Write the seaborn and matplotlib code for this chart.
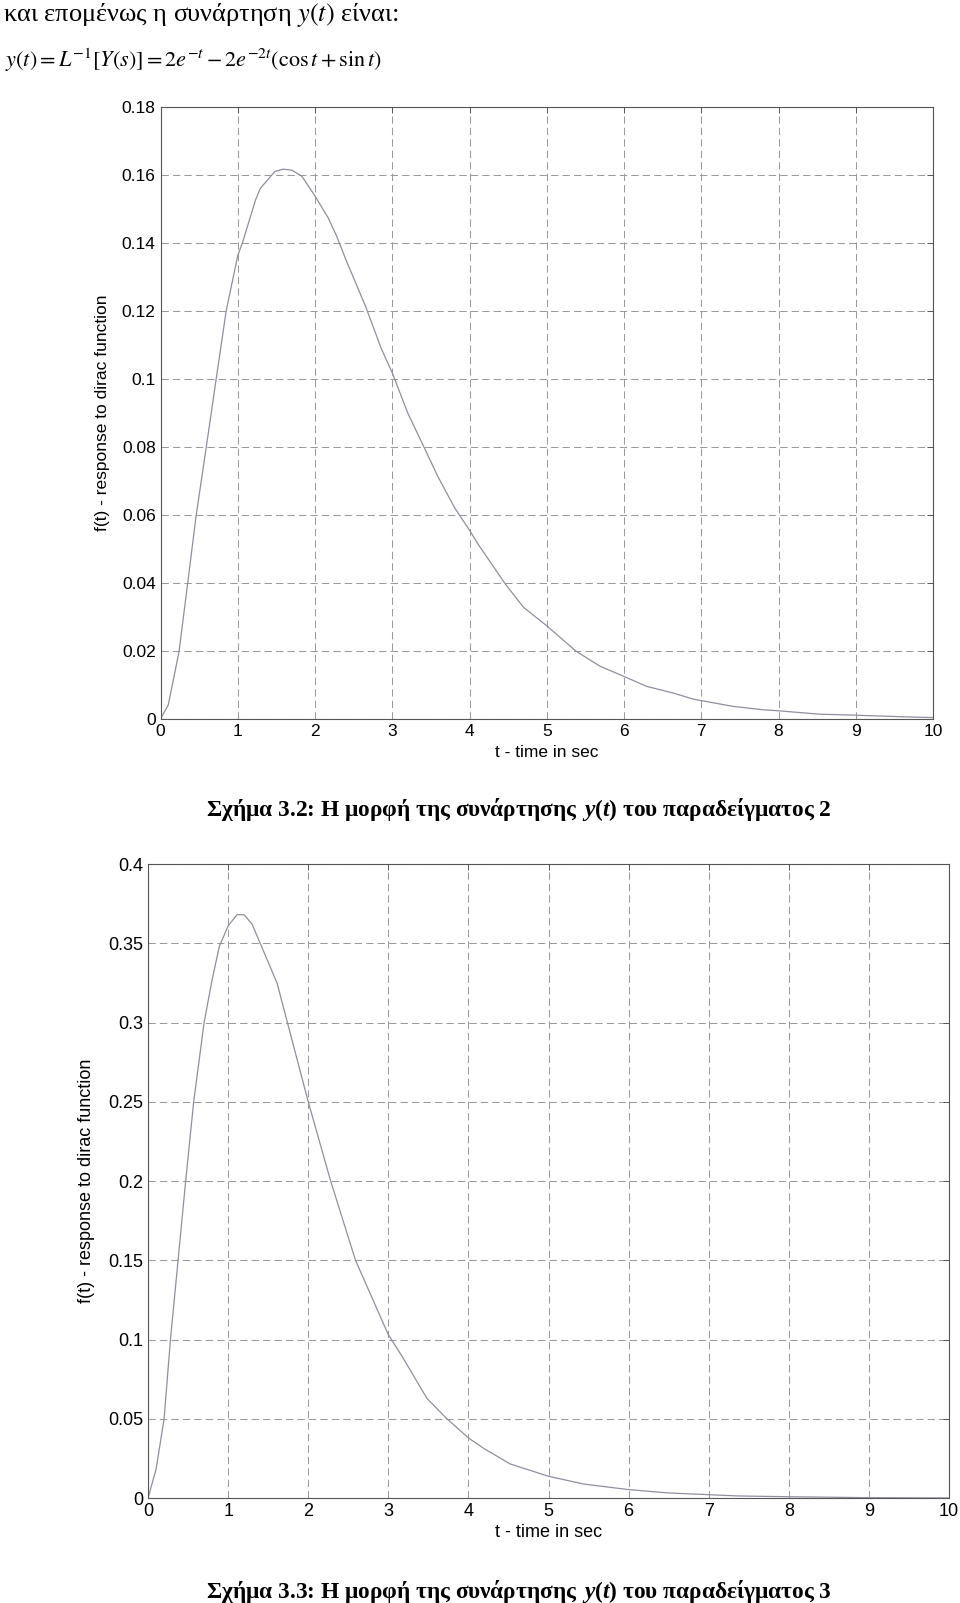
import matplotlib
matplotlib.use("Agg")
import matplotlib.pyplot as plt
import seaborn as sns

# values
t_ex2 = [0, 0.1, 0.24, 0.35, 0.46, 0.59, 0.72, 0.85, 1.0, 1.06, 1.23, 1.29,
         1.48, 1.59, 1.70, 1.83, 2.0, 2.17, 2.28, 2.41, 2.65, 2.86, 3.0, 3.2,
         3.42, 3.59, 3.81, 4.0, 4.12, 4.46, 4.70, 5.0, 5.38, 5.69, 6.0, 6.29,
         6.64, 6.9, 7.0, 7.41, 7.8, 8.0, 8.53, 9.0, 9.66, 10.0]
y_ex2 = [0, 0.0041, 0.0198, 0.0396, 0.0596, 0.0796, 0.0999, 0.120, 0.1363,
         0.140, 0.1526, 0.156, 0.161, 0.1617, 0.1614, 0.1596, 0.1538, 0.1474,
         0.142, 0.1345, 0.1216, 0.1088, 0.1018, 0.090, 0.0795, 0.0713, 0.062,
         0.0555, 0.0511, 0.0398, 0.0328, 0.0274, 0.0199, 0.0155, 0.0125,
         0.0096, 0.0076, 0.0058, 0.0054, 0.0037, 0.0027, 0.0024, 0.0014,
         0.0011, 0.0006, 0.0004]

t_ex3 = [0, 0.1, 0.2, 0.28, 0.375, 0.47, 0.57, 0.70, 0.8, 0.89, 1.0, 1.11,
         1.2, 1.3, 1.4, 1.61, 1.74, 2.0, 2.28, 2.59, 3.0, 3.17, 3.48, 3.72,
         4.0, 4.2, 4.52, 5.0, 5.44, 6.0, 6.49, 7.0, 7.36, 8.0, 9.0, 10.0]
y_ex3 = [0, 0.018, 0.0497, 0.100, 0.150, 0.200, 0.250, 0.300, 0.327, 0.348,
         0.361, 0.368, 0.368, 0.362, 0.350, 0.325, 0.300, 0.250, 0.200, 0.150,
         0.103, 0.0895, 0.063, 0.0505, 0.0379, 0.031, 0.0215, 0.0137, 0.0088,
         0.0053, 0.0032, 0.0021, 0.0013, 0.0008, 0.0002, 0.0]

x_ticks = [0, 1, 2, 3, 4, 5, 6, 7, 8, 9, 10]
y_ticks_ex2 = [0, 0.02, 0.04, 0.06, 0.08, 0.1, 0.12, 0.14, 0.16, 0.18]
y_labels_ex2 = ["0", "0.02", "0.04", "0.06", "0.08", "0.1", "0.12", "0.14", "0.16", "0.18"]
y_ticks_ex3 = [0, 0.05, 0.1, 0.15, 0.2, 0.25, 0.3, 0.35, 0.4]
y_labels_ex3 = ["0", "0.05", "0.1", "0.15", "0.2", "0.25", "0.3", "0.35", "0.4"]

intro_text = "και επομένως η συνάρτηση $y(t)$ είναι:"
formula_text = r"$y(t) = L^{-1}[Y(s)] = 2e^{-t} - 2e^{-2t}(\cos t + \sin t)$"
caption_ex2 = r"Σχήμα 3.2: Η μορφή της συνάρτησης $\,y(t)$ του παραδείγματος 2"
caption_ex3 = r"Σχήμα 3.3: Η μορφή της συνάρτησης $\,y(t)$ του παραδείγματος 3"
x_label = "t - time in sec"
y_label = "f(t) - response to dirac function"

sns.set_style("white")
plt.rcParams["font.family"] = ["Liberation Sans", "DejaVu Sans"]
plt.rcParams["text.color"] = "black"
plt.rcParams["axes.labelcolor"] = "black"
plt.rcParams["xtick.labelcolor"] = "black"
plt.rcParams["ytick.labelcolor"] = "black"
plt.rcParams["mathtext.rm"] = "Liberation Serif:bold"
plt.rcParams["mathtext.it"] = "Liberation Serif:italic:bold"
plt.rcParams["mathtext.bf"] = "Liberation Serif:bold"

line_color = "#8f8fa0"
grid_color = "#9a9a9a"
spine_color = "#555555"


def style_axes(ax, y_ticks, y_labels, y_max, tick_size, label_size):
    ax.set_xlim(0, 10)
    ax.set_ylim(0, y_max)
    ax.set_xticks(x_ticks)
    ax.set_xticklabels([str(v) for v in x_ticks])
    ax.set_yticks(y_ticks)
    ax.set_yticklabels(y_labels)
    ax.grid(True, linestyle=(0, (7, 4)), color=grid_color, linewidth=0.75)
    ax.tick_params(direction="in", length=4, width=0.7, color=spine_color,
                   labelsize=tick_size, labelcolor="black", pad=3.5,
                   top=True, right=True)
    for spine in ax.spines.values():
        spine.set_color(spine_color)
        spine.set_linewidth(0.8)
        spine.set_visible(True)
    ax.set_xlabel(x_label, fontsize=label_size, color="black")
    ax.set_ylabel(y_label, fontsize=label_size, color="black")


fig = plt.figure(figsize=(9.6, 16.03), dpi=100)

# plot of example 2
ax1 = fig.add_axes([0.1672, 0.5515, 0.8047, 0.3818])
sns.lineplot(x=t_ex2, y=y_ex2, ax=ax1, color=line_color, linewidth=0.9, estimator=None)
style_axes(ax1, y_ticks_ex2, y_labels_ex2, 0.18, 12.5, 12.5)
ax1.xaxis.set_label_coords(0.5, -0.042)
ax1.yaxis.set_label_coords(-0.066, 0.5)

# plot of example 3
ax2 = fig.add_axes([0.1542, 0.0655, 0.8344, 0.3955])
sns.lineplot(x=t_ex3, y=y_ex3, ax=ax2, color=line_color, linewidth=0.9, estimator=None)
style_axes(ax2, y_ticks_ex3, y_labels_ex3, 0.4, 13, 13)
ax2.xaxis.set_label_coords(0.5, -0.041)
ax2.yaxis.set_label_coords(-0.066, 0.5)

# text of the page around the figures
fig.text(0.003, 1 - 21 / 1603, intro_text, fontsize=19, family="Liberation Serif",
         math_fontfamily="stix", ha="left", va="baseline")
fig.text(0.005, 1 - 67 / 1603, formula_text, fontsize=16,
         math_fontfamily="stix", ha="left", va="baseline")
fig.text(0.5406, 1 - 816 / 1603, caption_ex2, fontsize=16.8, family="Liberation Serif",
         weight="bold", math_fontfamily="custom", ha="center", va="baseline")
fig.text(0.5406, 1 - 1598 / 1603, caption_ex3, fontsize=16.8, family="Liberation Serif",
         weight="bold", math_fontfamily="custom", ha="center", va="baseline")

fig.savefig("out.png", dpi=100, facecolor="white")
